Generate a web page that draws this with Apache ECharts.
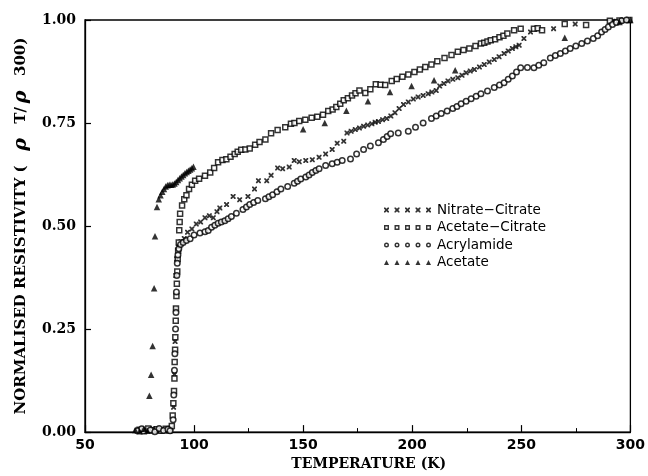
<!DOCTYPE html>
<html><head><meta charset="utf-8">
<script src="https://cdn.jsdelivr.net/npm/echarts@6/dist/echarts.min.js"></script>
<style>html,body{margin:0;padding:0;background:#fff}#c{width:648px;height:476px}</style>
</head><body><div id="c"></div>
<script>
const seriesNames = ['Nitrate\u2212Citrate', 'Acetate\u2212Citrate', 'Acrylamide', 'Acetate'];
const yTickLabels = ['0.00', '0.25', '0.50', '0.75', '1.00'];
const xTickLabels = ['50', '100', '150', '200', '250', '300'];

const nitrateCitrate = [[78,0.004],[81,0.009],[84,0.002],[87,0.006],[89.5,0.01],
[90.6,0.06],[91,0.14],[91.3,0.22],[91.5,0.3],[91.6,0.38],[92,0.42],[92.8,0.45],[94,0.462],[95.5,0.47],[97,0.485],[99,0.493],[101,0.505],[103,0.51],[105,0.52],[107,0.525],[108.8,0.52],[110.5,0.535],[111.8,0.544],[114.9,0.552],[117.9,0.572],[120.9,0.564],[124.7,0.572],[127.7,0.590],[129.5,0.61],[133.3,0.61],[135.3,0.623],[138.3,0.641],[140.6,0.639],[143.6,0.643],[145.9,0.659],[148.2,0.656],[151.2,0.659],[154.2,0.661],[157.3,0.667],[160.3,0.675],[163.3,0.686],[165.6,0.701],[168.6,0.706],[170.1,0.726],[172,0.73],[173.9,0.734],[175.8,0.738],[177.7,0.742],[179.6,0.745],[181.5,0.748],[183,0.752],[184.5,0.754],[186.4,0.758],[188.3,0.761],[190.2,0.767],[192.1,0.775],[194,0.785],[196,0.795],[198.2,0.801],[200.5,0.808],[202.7,0.813],[205,0.817],[207.3,0.821],[209,0.825],[211,0.829],[212.6,0.84],[214.5,0.846],[216.4,0.852],[218.6,0.856],[220.9,0.86],[222.8,0.866],[224.7,0.872],[226.6,0.876],[228.5,0.88],[230.8,0.886],[233,0.892],[235.3,0.898],[237.6,0.904],[239.8,0.911],[242.1,0.919],[244,0.925],[245.9,0.931],[247.5,0.935],[249,0.939],[251.2,0.955],[254.2,0.971],[264.8,0.979],[274.7,0.99],[292,0.997],[297,1.0]];

const acetateCitrate = [[75,0.006],[77,0.002],[79,0.009],[81,0.004],[83,0.007],[85,0.003],[87,0.008],[88.5,0.004],
[89.8,0.015],[90.2,0.04],[90.5,0.07],[90.8,0.1],[91,0.13],[91.1,0.17],[91.3,0.2],[91.4,0.23],[91.6,0.27],[91.7,0.3],[91.9,0.33],[92.1,0.36],[92.3,0.39],[92.5,0.42],[92.7,0.44],[93,0.46],[93.2,0.49],[93.4,0.51],[93.6,0.53],[94.5,0.55],[95.5,0.565],[96.5,0.575],[97.7,0.59],[99,0.6],[100.5,0.61],[102.3,0.615],[105,0.622],[107.4,0.63],[109.2,0.641],[111,0.655],[113,0.66],[114.8,0.662],[116.7,0.668],[118.6,0.675],[120,0.68],[121.6,0.685],[123.5,0.686],[125.5,0.688],[128,0.697],[130,0.704],[132.7,0.71],[135.3,0.725],[138.3,0.733],[141.8,0.740],[144.4,0.748],[146,0.75],[148.2,0.755],[151,0.758],[153.9,0.763],[156.5,0.765],[159.1,0.77],[161.5,0.779],[163.5,0.783],[165.2,0.789],[167,0.797],[168.6,0.805],[170.5,0.81],[172.4,0.817],[174,0.822],[175.8,0.829],[178.5,0.823],[180.8,0.832],[183.3,0.844],[185.5,0.843],[187.6,0.842],[190.6,0.852],[192.9,0.857],[195.5,0.862],[198.2,0.868],[201,0.874],[203.5,0.88],[206,0.886],[208.8,0.892],[211.5,0.9],[214.8,0.908],[218,0.915],[220.9,0.923],[223.5,0.927],[226.2,0.931],[229,0.937],[231.5,0.943],[233,0.945],[234.5,0.948],[236,0.951],[238,0.953],[240,0.958],[241.8,0.962],[243.6,0.967],[246.7,0.975],[249.7,0.979],[255.8,0.979],[257.5,0.98],[259.5,0.975],[269.9,0.99],[279.7,0.988],[290.6,0.998],[295,0.999],[299.5,1.0]];

const acrylamide = [[74,0.003],[76,0.008],[80,0.005],[82,0.001],[84,0.009],[86,0.004],[88,0.007],[89,0.003],
[90.4,0.03],[90.7,0.09],[91,0.15],[91.2,0.19],[91.5,0.25],[91.7,0.29],[91.9,0.34],[92.1,0.38],[92.3,0.41],[92.6,0.43],[93,0.445],[93.8,0.455],[95,0.46],[96.5,0.465],[98.2,0.469],[100,0.478],[102.7,0.483],[105,0.486],[106.5,0.489],[108,0.497],[109.5,0.502],[111,0.507],[112.5,0.51],[114.1,0.513],[115.6,0.518],[117.1,0.523],[119.4,0.531],[122.4,0.54],[124,0.546],[125.5,0.552],[127.3,0.557],[129.2,0.562],[132.7,0.566],[134.3,0.571],[136,0.576],[138,0.583],[139.8,0.59],[142.9,0.596],[145.9,0.604],[147.4,0.609],[148.9,0.614],[151.2,0.619],[152.7,0.624],[154.2,0.63],[155.8,0.635],[157.3,0.639],[160.3,0.647],[163.3,0.651],[165.6,0.655],[167.9,0.659],[171.7,0.663],[174.5,0.675],[177.7,0.686],[180.8,0.694],[184.5,0.702],[186.8,0.71],[188.5,0.717],[190.1,0.724],[193.6,0.726],[198.2,0.73],[201.5,0.74],[205,0.75],[208.8,0.761],[211,0.767],[213.3,0.773],[216,0.779],[218.6,0.785],[220.5,0.79],[222.4,0.797],[224.7,0.803],[227,0.809],[229.3,0.815],[231.5,0.821],[234.5,0.828],[237.6,0.836],[240,0.842],[242.1,0.848],[244,0.856],[245.9,0.864],[247.8,0.874],[249.7,0.884],[252.8,0.885],[255.8,0.884],[258,0.89],[260.3,0.896],[263.3,0.908],[265.6,0.914],[267.9,0.919],[270.2,0.925],[272.4,0.931],[275,0.937],[277.7,0.943],[280.3,0.949],[283,0.955],[285,0.962],[286.8,0.971],[288.4,0.977],[289.9,0.983],[291.8,0.989],[293.6,0.994],[296,0.998],[298.2,1.0]];

const acetate = [[73,0.005],[75,0.002],[77,0.008],[78.5,0.003],[79.5,0.088],[80.3,0.139],[81,0.209],[81.7,0.349],[82.1,0.475],[83,0.546],
[83.8,0.565],[84.6,0.575],[85.4,0.583],[86.2,0.59],[87,0.596],[87.8,0.599],[88.6,0.6],[89.4,0.6],[90.2,0.601],[91,0.603],[91.8,0.607],[92.6,0.612],[93.4,0.616],[94.2,0.62],[95,0.624],[95.8,0.628],[96.6,0.631],[97.4,0.634],[98.2,0.637],[99,0.640],[99.7,0.644],
[150,0.735],[159.9,0.750],[169.8,0.780],[179.7,0.803],[189.8,0.825],[199.7,0.840],[210,0.854],[219.7,0.878],[269.9,0.957],[295,0.995],[300,1.0]];

const crossPath = 'path://M0 0L1.3 0L2.5 1.3L3.7 0L5 0L5 1.3L3.7 2.5L5 3.7L5 5L3.7 5L2.5 3.7L1.3 5L0 5L0 3.7L1.3 2.5L0 1.3Z';
function repeat5(fn) { let s = ''; for (let i = 0; i < 5; i++) s += fn(i * 10.5); return 'path://' + s; }
const legendIcons = [
  repeat5(x => `M${x} 0L${x+1.3} 0L${x+2.5} 1.3L${x+3.7} 0L${x+5} 0L${x+5} 1.3L${x+3.7} 2.5L${x+5} 3.7L${x+5} 5L${x+3.7} 5L${x+2.5} 3.7L${x+1.3} 5L${x} 5L${x} 3.7L${x+1.3} 2.5L${x} 1.3Z`),
  repeat5(x => `M${x} 0H${x+5}V5H${x}Z M${x+1.4} 1.4V3.6H${x+3.6}V1.4Z`),
  repeat5(x => `M${x} 2.5A2.5 2.5 0 1 0 ${x+5} 2.5A2.5 2.5 0 1 0 ${x} 2.5Z M${x+1.4} 2.5A1.1 1.1 0 1 1 ${x+3.6} 2.5A1.1 1.1 0 1 1 ${x+1.4} 2.5Z`),
  repeat5(x => `M${x} 5L${x+2.5} 0L${x+5} 5Z`)
];

const chart = echarts.init(document.getElementById('c'), null, { renderer: 'canvas' });
const serifBold = { fontFamily: 'DejaVu Serif', fontWeight: 'bold', color: '#000' };
chart.setOption({
  backgroundColor: '#fff',
  animation: false,
  grid: { left: 85, right: 14, top: 20, bottom: 33, show: true, borderColor: '#000', borderWidth: 1.3 },
  legend: {
    orient: 'vertical', left: 379, top: 198, itemWidth: 47, itemHeight: 5, itemGap: 3.5,
    textStyle: { fontFamily: 'DejaVu Sans', fontSize: 13.5, color: '#000', padding: [0, 0, 0, 1] },
    data: seriesNames.map((n, i) => ({ name: n, icon: legendIcons[i], itemStyle: { color: '#000', borderWidth: 0 } }))
  },
  xAxis: {
    type: 'value', min: 50, max: 300, interval: 50,
    name: 'TEMPERATURE (K)', nameLocation: 'middle', nameGap: 17,
    nameTextStyle: Object.assign({ fontSize: 14, padding: [0, 0, 0, 22] }, serifBold),
    axisLine: { lineStyle: { color: '#000', width: 1.3 } },
    axisTick: { inside: true, length: 7, lineStyle: { color: '#000', width: 1.2 } },
    minorTick: { show: true, splitNumber: 2, length: 4, lineStyle: { color: '#000', width: 1 } },
    splitLine: { show: false },
    axisLabel: { margin: 6, fontFamily: 'DejaVu Sans', fontWeight: 'bold', fontSize: 14, color: '#000',
      formatter: v => xTickLabels[Math.round((v - 50) / 50)] }
  },
  yAxis: {
    type: 'value', min: 0, max: 1, interval: 0.25,
    name: '{a|NORMALISED RESISTIVITY (}  {r|\u03c1}  {a|T/}{r|\u03c1}  {a|300)}', nameLocation: 'middle', nameGap: 50,
    nameTextStyle: Object.assign({ fontSize: 15,
      rich: {
        a: { fontFamily: 'DejaVu Serif', fontWeight: 'bold', fontSize: 15, color: '#000' },
        r: { fontFamily: 'DejaVu Serif', fontStyle: 'italic', fontSize: 19, color: '#000', padding: [0, 4, 0, 4] }
      } }, serifBold),
    axisLine: { lineStyle: { color: '#000', width: 1.3 } },
    axisTick: { inside: true, length: 6, lineStyle: { color: '#000', width: 1.2 } },
    splitLine: { show: false },
    axisLabel: Object.assign({ margin: 9, fontSize: 14,
      formatter: v => yTickLabels[Math.round(v / 0.25)] }, serifBold)
  },
  series: [
    { name: seriesNames[0], type: 'scatter', data: nitrateCitrate, symbol: crossPath, symbolSize: 5,
      itemStyle: { color: '#000' } },
    { name: seriesNames[1], type: 'scatter', data: acetateCitrate, symbol: 'rect', symbolSize: 5,
      itemStyle: { color: '#fff', borderColor: '#000', borderWidth: 1.5 } },
    { name: seriesNames[2], type: 'scatter', data: acrylamide, symbol: 'circle', symbolSize: 5.5,
      itemStyle: { color: '#fff', borderColor: '#000', borderWidth: 1.5 } },
    { name: seriesNames[3], type: 'scatter', data: acetate, symbol: 'triangle', symbolSize: 6.5,
      itemStyle: { color: '#000' } }
  ]
});
</script></body></html>
